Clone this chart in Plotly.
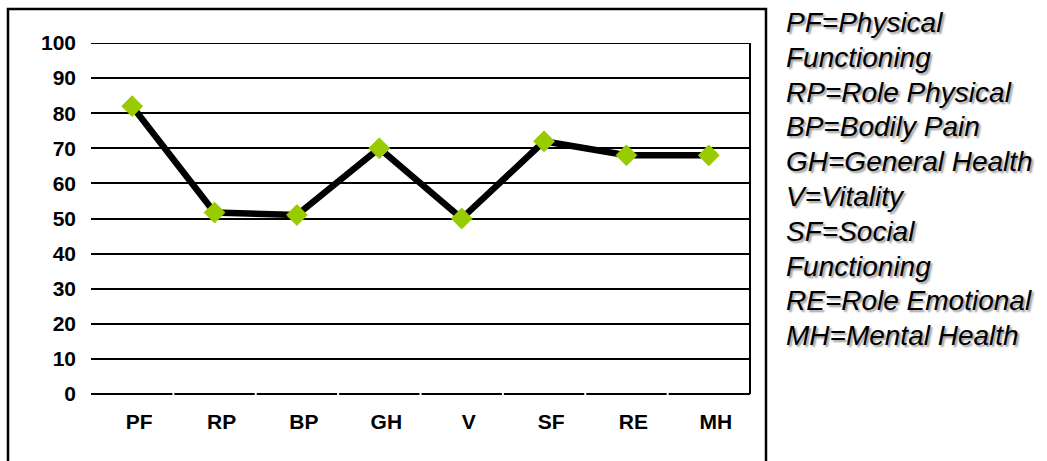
import plotly.graph_objects as go

categories = ["PF", "RP", "BP", "GH", "V", "SF", "RE", "MH"]
scores = [82, 51.7, 51, 70, 50, 72, 68, 68]
y_ticks = [0, 10, 20, 30, 40, 50, 60, 70, 80, 90, 100]
legend_lines = [
    "PF=Physical",
    "Functioning",
    "RP=Role Physical",
    "BP=Bodily Pain",
    "GH=General Health",
    "V=Vitality",
    "SF=Social",
    "Functioning",
    "RE=Role Emotional",
    "MH=Mental Health",
]

W, H = 1047, 461
L, R, T, B = 91, 297, 43, 67
pw, ph = W - L - R, H - T - B

def px_x(x):
    return (x - L) / pw

def px_y(y):
    return (H - B - y) / ph

fig = go.Figure()
fig.add_trace(go.Scatter(
    x=list(range(len(categories))),
    y=scores,
    mode="lines+markers",
    line=dict(color="black", width=6.5),
    marker=dict(symbol="diamond", size=16, color="#99CC00",
                line=dict(color="#99CC00", width=1)),
    hoverinfo="skip",
))

shapes = []
# outer frame
shapes.append(dict(type="rect", xref="paper", yref="paper",
                   x0=px_x(8), x1=px_x(766), y0=px_y(9), y1=px_y(520),
                   line=dict(color="black", width=2.5), layer="below"))
# right border of the plot area
shapes.append(dict(type="line", xref="paper", yref="paper",
                   x0=1, x1=1, y0=0, y1=1,
                   line=dict(color="black", width=2)))
# top gridline sits on the range edge
shapes.append(dict(type="line", xref="paper", yref="y",
                   x0=0, x1=1, y0=max(y_ticks), y1=max(y_ticks),
                   line=dict(color="black", width=2), layer="below"))
# small breaks in the baseline at category boundaries
for i in range(1, len(categories)):
    shapes.append(dict(type="line", xref="x", yref="paper",
                       x0=i - 0.5, x1=i - 0.5, y0=-0.006, y1=0.006,
                       line=dict(color="white", width=2)))

annotations = []
for i, txt in enumerate(legend_lines):
    annotations.append(dict(
        text=txt, xref="paper", yref="paper",
        x=px_x(784), y=px_y(5 + i * 34.8),
        xanchor="left", yanchor="top", showarrow=False,
        font=dict(family="Liberation Sans, Arial", size=28, color="black",
                  style="italic", shadow="2px 2px 2px #9a9a9a"),
    ))

fig.update_layout(
    width=W, height=H,
    margin=dict(l=L, r=R, t=T, b=B),
    paper_bgcolor="white", plot_bgcolor="white",
    showlegend=False,
    shapes=shapes,
    annotations=annotations,
    xaxis=dict(
        range=[-0.5, len(categories) - 0.5],
        tickmode="array", tickvals=list(range(len(categories))), ticktext=categories,
        showgrid=False, zeroline=False, showline=False, ticks="",
        tickfont=dict(family="Liberation Sans, Arial", size=21, color="black", weight="bold"),
        ticklabelstandoff=13, ticklabelshift=7,
    ),
    yaxis=dict(
        range=[0, 100], tickvals=y_ticks,
        showgrid=True, gridcolor="black", gridwidth=2,
        zeroline=True, zerolinecolor="black", zerolinewidth=2,
        showline=False, ticks="",
        tickfont=dict(family="Liberation Sans, Arial", size=21, color="black", weight="bold"),
        ticklabelstandoff=14,
    ),
)

fig.write_html("out.html")
